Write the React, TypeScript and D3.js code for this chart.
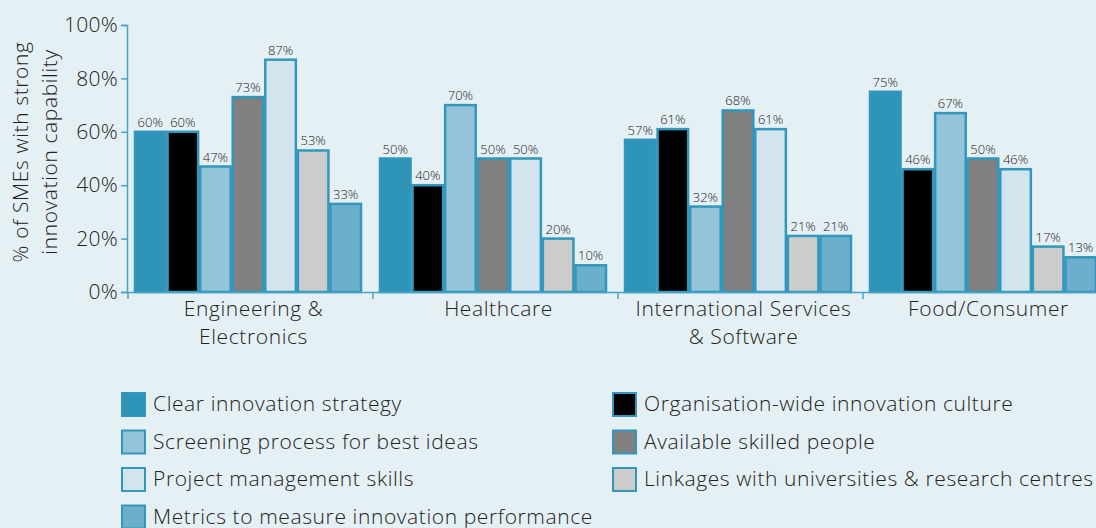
import * as d3 from 'd3';
import { useEffect, useRef } from 'react';

const categories = [
  ['Engineering &', 'Electronics'],
  ['Healthcare'],
  ['International Services', '& Software'],
  ['Food/Consumer'],
];

const seriesNames = [
  'Clear innovation strategy',
  'Organisation-wide innovation culture',
  'Screening process for best ideas',
  'Available skilled people',
  'Project management skills',
  'Linkages with universities & research centres',
  'Metrics to measure innovation performance',
];

// one row per category, one value per series (in %)
const engineering = [60, 60, 47, 73, 87, 53, 33];
const healthcare = [50, 40, 70, 50, 50, 20, 10];
const international = [57, 61, 32, 68, 61, 21, 21];
const food = [75, 46, 67, 50, 46, 17, 13];
const values = [engineering, healthcare, international, food];

const yTicks = [0, 20, 40, 60, 80, 100];

const fills = ['#2e95b9', '#000000', '#94c4d9', '#808080', '#d2e5ef', '#cccccc', '#6cafcc'];
const strokeCol = '#3297bb';
const font = '"Open Sans", "DejaVu Sans", sans-serif';

export default function App() {
  const ref = useRef<SVGSVGElement>(null);

  useEffect(() => {
    const width = 1096, height = 528;
    const svg = d3.select(ref.current);
    svg.selectAll('*').remove();

    svg.append('rect').attr('width', width).attr('height', height).attr('fill', '#e5f0f5');

    var catKeys = categories.map((c) => c.join(' '));
    var x0 = d3.scaleBand().domain(catKeys).range([128, 1108]);
    var x1 = d3.scaleBand().domain(seriesNames).range([0, 228]);
    var y = d3.scaleLinear().domain([0, 100]).range([292, 25]);

    // y axis
    var yAxis = svg.append('g')
      .attr('transform', 'translate(127,0)')
      .call(d3.axisLeft(y).tickValues(yTicks).tickSize(6).tickPadding(3).tickFormat((d) => d + '%'));
    yAxis.select('.domain').attr('stroke', '#4aa3c4').attr('stroke-width', 1.5);
    yAxis.selectAll('.tick line').attr('stroke', '#4aa3c4').attr('stroke-width', 1.5);
    yAxis.selectAll('.tick text')
      .attr('font-family', font).attr('font-size', 21).attr('font-weight', 300)
      .attr('letter-spacing', 0.3)
      .attr('fill', '#222');

    // bars
    var groups = svg.selectAll('.grp')
      .data(values)
      .enter().append('g')
      .attr('class', 'grp')
      .attr('transform', (d, i) => 'translate(' + (x0(catKeys[i])! + 6) + ',0)');

    groups.selectAll('rect')
      .data((d) => d.map((v, j) => ({ v, j })))
      .enter().append('rect')
      .attr('x', (d) => x1(seriesNames[d.j])! + 1)
      .attr('y', (d) => y(d.v))
      .attr('width', x1.bandwidth() - 2)
      .attr('height', (d) => y(0) - y(d.v))
      .attr('fill', (d) => fills[d.j])
      .attr('stroke', strokeCol)
      .attr('stroke-width', 2.5);

    groups.selectAll('text')
      .data((d) => d.map((v, j) => ({ v, j })))
      .enter().append('text')
      .attr('x', (d) => x1(seriesNames[d.j])! + x1.bandwidth() / 2)
      .attr('y', (d) => y(d.v) - 5)
      .attr('text-anchor', 'middle')
      .attr('font-family', font).attr('font-size', 13).attr('font-weight', 300)
      .attr('fill', '#222')
      .text((d) => d.v + '%');

    // x axis
    svg.append('line')
      .attr('x1', 127).attr('x2', width).attr('y1', 292.5).attr('y2', 292.5)
      .attr('stroke', '#4aa3c4').attr('stroke-width', 1.5);
    svg.selectAll('.xtick')
      .data(catKeys)
      .enter().append('line')
      .attr('x1', (d) => x0(d)!).attr('x2', (d) => x0(d)!)
      .attr('y1', 292).attr('y2', 299)
      .attr('stroke', '#4aa3c4').attr('stroke-width', 1.5);

    categories.forEach((lines, i) => {
      var cx = x0(catKeys[i])! + x0.bandwidth() / 2 + 3;
      var t = svg.append('text')
        .attr('text-anchor', 'middle')
        .attr('font-family', font).attr('font-size', 21).attr('font-weight', 300)
        .attr('letter-spacing', 0.6)
        .attr('fill', '#222');
      lines.forEach((l, k) => {
        t.append('tspan').attr('x', cx).attr('y', 316 + k * 28).text(l);
      });
    });

    // y title
    var yt = svg.append('text')
      .attr('transform', 'translate(0,152) rotate(-90)')
      .attr('text-anchor', 'middle')
      .attr('font-family', font).attr('font-size', 21).attr('font-weight', 300)
      .attr('letter-spacing', 0.6)
      .attr('fill', '#222');
    yt.append('tspan').attr('x', 0).attr('y', 28).text('% of SMEs with strong');
    yt.append('tspan').attr('x', 0).attr('y', 57).text('innovation capability');

    // legend
    var legendOrder = [0, 2, 4, 6, 1, 3, 5];
    var leg = svg.selectAll('.leg')
      .data(legendOrder)
      .enter().append('g')
      .attr('class', 'leg')
      .attr('transform', (d, i) => {
        var col = i < 4 ? 0 : 1;
        var row = i < 4 ? i : i - 4;
        return 'translate(' + (col ? 613 : 122) + ',' + (393 + row * 37.5) + ')';
      });
    leg.append('rect')
      .attr('width', 23).attr('height', 23)
      .attr('fill', (d) => fills[d])
      .attr('stroke', strokeCol).attr('stroke-width', 2);
    leg.append('text')
      .attr('x', 31).attr('y', 11).attr('dy', '0.35em')
      .attr('font-family', font).attr('font-size', 21).attr('font-weight', 300)
      .attr('letter-spacing', 0.6)
      .attr('fill', '#222')
      .text((d) => seriesNames[d]);
  }, []);

  return (
    <svg ref={ref} width={1096} height={528} style={{ position: 'absolute', left: 0, top: 0 }} />
  );
}
